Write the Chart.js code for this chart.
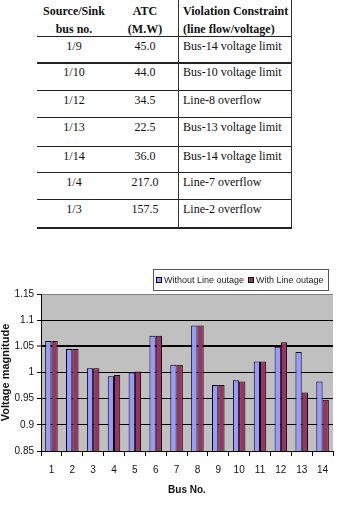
<!DOCTYPE html>
<html>
<head>
<meta charset="utf-8">
<script src="https://cdn.jsdelivr.net/npm/chart.js@4"></script>
<style>
  body { margin: 0; background: #fff; width: 337px; height: 509px; overflow: hidden; position: relative; }
  #tbl { position: absolute; left: 0; top: 0; width: 337px; height: 230px; font-family: "Liberation Serif", "DejaVu Serif", serif; font-size: 12px; color: #111; }
  .cell { position: absolute; white-space: nowrap; line-height: 14px; }
  .hd { font-weight: bold; }
  .hl { position: absolute; left: 37px; width: 255px; background: #222; }
  .vl { position: absolute; top: 0; width: 1px; height: 228px; background: #333; }
  #wrap { position: absolute; left: 0; top: 260px; width: 337px; height: 249px; }
</style>
</head>
<body>
<div id="tbl"></div>
<div id="wrap"><canvas id="modelChart"></canvas></div>
<script>
// table data
var sourceSink = ["1/9", "1/10", "1/12", "1/13", "1/14", "1/4", "1/3"];
var atcMW = ["45.0", "44.0", "34.5", "22.5", "36.0", "217.0", "157.5"];
var violation = ["Bus-14 voltage limit", "Bus-10 voltage limit", "Line-8 overflow",
  "Bus-13 voltage limit", "Bus-14 voltage limit", "Line-7 overflow", "Line-2 overflow"];

// chart data
var busNo = ["1", "2", "3", "4", "5", "6", "7", "8", "9", "10", "11", "12", "13", "14"];
var withoutOutage = [1.06, 1.045, 1.008, 0.993, 1.0, 1.07, 1.015, 1.09, 0.976, 0.985, 1.021, 1.049, 1.039, 0.983];
var withOutage = [1.06, 1.045, 1.008, 0.995, 1.002, 1.07, 1.015, 1.09, 0.976, 0.983, 1.021, 1.058, 0.962, 0.948];
var yTicks = [0.85, 0.9, 0.95, 1, 1.05, 1.1, 1.15];

// ---- table ----
var tbl = document.getElementById("tbl");
function cell(text, x, y, align, cls) {
  var d = document.createElement("div");
  d.className = "cell" + (cls ? " " + cls : "");
  d.textContent = text;
  d.style.top = (y - 7) + "px";
  if (align == "center") {
    d.style.left = (x - 60) + "px";
    d.style.width = "120px";
    d.style.textAlign = "center";
  } else {
    d.style.left = x + "px";
  }
  tbl.appendChild(d);
}
function hline(y, w) {
  var d = document.createElement("div");
  d.className = "hl";
  d.style.top = y + "px";
  d.style.height = w + "px";
  tbl.appendChild(d);
}
function vline(x) {
  var d = document.createElement("div");
  d.className = "vl";
  d.style.left = x + "px";
  tbl.appendChild(d);
}

cell("Source/Sink", 74, 11, "center", "hd");
cell("bus no.", 74, 29, "center", "hd");
cell("ATC", 145, 11, "center", "hd");
cell("(M.W)", 145, 29, "center", "hd");
cell("Violation Constraint", 183, 11, "left", "hd");
cell("(line flow/voltage)", 183, 29, "left", "hd");

var lineY = [36, 62, 90, 117, 146, 172, 199, 227];
var lineW = [1, 2, 1, 1, 1, 1, 1, 2];
for (var i = 0; i < lineY.length; i++) hline(lineY[i], lineW[i]);
for (var i = 0; i < sourceSink.length; i++) {
  var y = lineY[i] + 10;
  cell(sourceSink[i], 74, y, "center");
  cell(atcMW[i], 145, y, "center");
  cell(violation[i], 183, y, "left");
}
vline(178);
vline(291);

// ---- chart ----
var plotBg = {
  id: "plotBg",
  beforeDraw: function (chart) {
    var a = chart.chartArea, c = chart.ctx;
    c.save();
    c.fillStyle = "#c0c0c0";
    c.fillRect(a.left, a.top, a.right - a.left, a.bottom - a.top);
    c.restore();
  }
};

var boxLegend = {
  id: "boxLegend",
  afterDraw: function (chart) {
    var c = chart.ctx;
    var x0 = 153, y0 = 9, w = 176, h = 22;
    c.save();
    c.fillStyle = "#fff";
    c.fillRect(x0, y0, w, h);
    c.strokeStyle = "#555";
    c.lineWidth = 1;
    c.strokeRect(x0 + 0.5, y0 + 0.5, w - 1, h - 1);
    c.font = "9px 'Liberation Sans', Arial, sans-serif";
    c.textBaseline = "middle";
    var xs = [156, 248];
    chart.data.datasets.forEach(function (ds, k) {
      c.fillStyle = ds.backgroundColor;
      c.fillRect(xs[k], y0 + 8, 6, 6);
      c.strokeStyle = "#000";
      c.strokeRect(xs[k] + 0.5, y0 + 8.5, 5, 5);
      c.fillStyle = "#222";
      c.fillText(ds.label, xs[k] + 8, y0 + 11.5);
    });
    c.restore();
  }
};

var ctx = document.getElementById("modelChart");
var myChart = new Chart(ctx, {
  type: "bar",
  data: {
    labels: busNo,
    datasets: [
      {
        label: "Without Line outage",
        data: withoutOutage,
        backgroundColor: "#9999ff",
        borderColor: "#000",
        borderWidth: 1,
        categoryPercentage: 0.6,
        barPercentage: 1.0
      },
      {
        label: "With Line outage",
        data: withOutage,
        backgroundColor: "#993366",
        borderColor: "#000",
        borderWidth: 1,
        categoryPercentage: 0.6,
        barPercentage: 1.0
      }
    ]
  },
  options: {
    responsive: true,
    maintainAspectRatio: false,
    devicePixelRatio: 1,
    animation: false,
    layout: { padding: { top: 34, right: 4, left: 0, bottom: 0 } },
    plugins: { legend: { display: false }, tooltip: { enabled: false } },
    scales: {
      x: {
        afterFit: function (s) { s.height = 58; },
        grid: { drawOnChartArea: false, offset: true, tickLength: 5, color: "#000", tickColor: "#000" },
        border: { display: true, color: "#000", width: 1 },
        ticks: { padding: 8, color: "#111", font: { family: "'Liberation Sans', Arial, sans-serif", size: 10 }, maxRotation: 0 },
        title: { display: true, text: "Bus No.", color: "#111", padding: { top: 0, bottom: 13 },
          font: { family: "'Liberation Sans', Arial, sans-serif", size: 10, weight: "bold" } }
      },
      y: {
        min: 0.85,
        max: 1.15,
        afterFit: function (s) { s.width = 41; },
        afterBuildTicks: function (s) { s.ticks = yTicks.map(function (v) { return { value: v }; }); },
        grid: {
          color: function (c) { return c.tick && c.tick.value == 1.15 ? "#808080" : "#000"; },
          lineWidth: function (c) { return c.tick && c.tick.value == 1.05 ? 2 : 1; },
          tickLength: 4, tickColor: "#000", tickWidth: 1
        },
        border: { display: true, color: "#000", width: 1 },
        ticks: {
          padding: 3, color: "#111",
          font: { family: "'Liberation Sans', Arial, sans-serif", size: 10 },
          callback: function (v) { return String(Number(v.toFixed(2))); }
        },
        title: { display: true, text: "Voltage magnitude", color: "#111", padding: { top: 0, bottom: 0 },
          font: { family: "'Liberation Sans', Arial, sans-serif", size: 11, weight: "bold", lineHeight: 1 } }
      }
    }
  },
  plugins: [plotBg, boxLegend]
});
</script>
</body>
</html>
